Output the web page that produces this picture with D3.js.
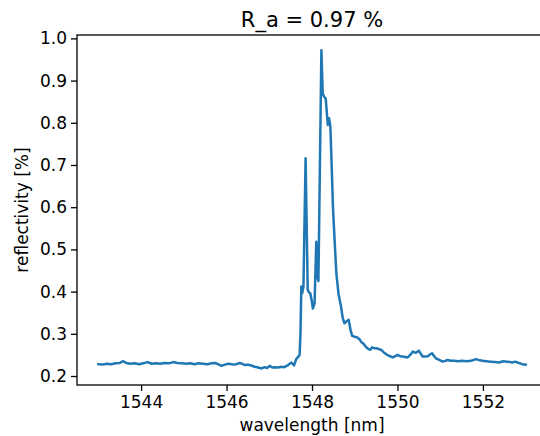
<!DOCTYPE html>
<html>
<head>
<meta charset="utf-8">
<script src="https://cdn.jsdelivr.net/npm/d3@7"></script>
<style>
  body { margin: 0; background: #fff; }
  text { font-family: "DejaVu Sans", sans-serif; fill: #000; }
</style>
</head>
<body>
<div id="myChart"></div>
<script>
// Data
let wavelength = [
  1543.00, 1543.10, 1543.20, 1543.30, 1543.40, 1543.50, 1543.58, 1543.65, 1543.75, 1543.85,
  1543.95, 1544.05, 1544.15, 1544.25, 1544.35, 1544.45, 1544.55, 1544.65, 1544.75, 1544.85,
  1544.95, 1545.05, 1545.15, 1545.25, 1545.35, 1545.45, 1545.55, 1545.65, 1545.73, 1545.80,
  1545.88, 1545.96, 1546.04, 1546.12, 1546.19, 1546.26, 1546.31, 1546.38, 1546.43, 1546.50,
  1546.58, 1546.66, 1546.74, 1546.82, 1546.89, 1546.95, 1547.01, 1547.07, 1547.13, 1547.20,
  1547.28, 1547.35, 1547.44, 1547.52, 1547.58, 1547.63, 1547.69, 1547.71, 1547.73, 1547.75,
  1547.77, 1547.80, 1547.85, 1547.90, 1547.93, 1547.96, 1548.00, 1548.02, 1548.06, 1548.10,
  1548.12, 1548.15, 1548.22, 1548.25, 1548.28, 1548.32, 1548.37, 1548.40, 1548.43, 1548.46,
  1548.49, 1548.53, 1548.57, 1548.62, 1548.68, 1548.72, 1548.76, 1548.80, 1548.86, 1548.90,
  1548.94, 1549.00, 1549.05, 1549.11, 1549.16, 1549.20, 1549.27, 1549.32, 1549.36, 1549.41,
  1549.45, 1549.50, 1549.56, 1549.62, 1549.68, 1549.73, 1549.80, 1549.89, 1549.95, 1550.00,
  1550.06, 1550.12, 1550.18, 1550.24, 1550.30, 1550.36, 1550.43, 1550.50, 1550.55, 1550.59,
  1550.65, 1550.71, 1550.76, 1550.81, 1550.86, 1550.90, 1550.98, 1551.06, 1551.12, 1551.17,
  1551.25, 1551.33, 1551.42, 1551.52, 1551.62, 1551.72, 1551.78, 1551.83, 1551.90, 1551.99,
  1552.08, 1552.18, 1552.28, 1552.38, 1552.47, 1552.57, 1552.63, 1552.69, 1552.75, 1552.81,
  1552.87, 1552.92, 1553.00
];
let reflectivity = [
  0.228, 0.227, 0.229, 0.228, 0.230, 0.231, 0.235, 0.231, 0.229, 0.230,
  0.228, 0.230, 0.233, 0.229, 0.230, 0.229, 0.231, 0.230, 0.233, 0.231,
  0.230, 0.229, 0.230, 0.228, 0.230, 0.229, 0.228, 0.230, 0.231, 0.228,
  0.224, 0.227, 0.229, 0.228, 0.227, 0.229, 0.231, 0.228, 0.226, 0.227,
  0.225, 0.222, 0.220, 0.218, 0.221, 0.219, 0.224, 0.220, 0.221, 0.220,
  0.222, 0.221, 0.226, 0.232, 0.225, 0.240, 0.247, 0.250, 0.300, 0.412,
  0.396, 0.412, 0.716, 0.404, 0.398, 0.396, 0.375, 0.360, 0.372, 0.518,
  0.440, 0.425, 0.972, 0.870, 0.862, 0.858, 0.795, 0.811, 0.791, 0.700,
  0.601, 0.520, 0.443, 0.395, 0.364, 0.337, 0.325, 0.329, 0.333, 0.310,
  0.295, 0.293, 0.292, 0.287, 0.280, 0.277, 0.268, 0.264, 0.262, 0.268,
  0.266, 0.266, 0.264, 0.262, 0.256, 0.252, 0.248, 0.244, 0.247, 0.250,
  0.247, 0.246, 0.245, 0.244, 0.250, 0.258, 0.255, 0.260, 0.252, 0.246,
  0.246, 0.247, 0.251, 0.254, 0.247, 0.242, 0.238, 0.234, 0.236, 0.238,
  0.236, 0.236, 0.235, 0.236, 0.235, 0.236, 0.238, 0.240, 0.238, 0.236,
  0.235, 0.234, 0.233, 0.232, 0.235, 0.234, 0.233, 0.232, 0.234, 0.232,
  0.230, 0.228, 0.227
];
let xTicks = [1544, 1546, 1548, 1550, 1552];
let yTicks = [0.2, 0.3, 0.4, 0.5, 0.6, 0.7, 0.8, 0.9, 1.0];

// Set the dimensions and margins of the graph
let margin = { top: 35, right: -7, bottom: 51, left: 77 },
  width = 540 - margin.left - margin.right,
  height = 436 - margin.top - margin.bottom;

let svg = d3
  .select("#myChart")
  .append("svg")
  .attr("width", 540)
  .attr("height", 436)
  .style("display", "block")
  .append("g")
  .attr("transform", `translate(${margin.left}, ${margin.top})`);

let data = wavelength.map((w, i) => ({ w: w, r: reflectivity[i] }));

// Scales (matplotlib-like 5% margins)
let x = d3.scaleLinear().domain([1542.5, 1553.5]).range([0, width]);
let y = d3.scaleLinear().domain([0.1787, 1.008]).range([height, 0]);

// X axis
let xAxis = svg
  .append("g")
  .attr("transform", `translate(0,${height})`)
  .call(
    d3
      .axisBottom(x)
      .tickValues(xTicks)
      .tickFormat(d3.format("d"))
      .tickSize(6)
      .tickPadding(5)
      .tickSizeOuter(0)
  );
xAxis.select(".domain").remove();
xAxis.selectAll(".tick line").attr("stroke", "#000").attr("stroke-width", 1.3);
xAxis
  .selectAll(".tick text")
  .style("font-size", "17px")
  .style("font-family", "DejaVu Sans");

// Y axis
let yAxis = svg
  .append("g")
  .call(
    d3
      .axisLeft(y)
      .tickValues(yTicks)
      .tickFormat(d3.format(".1f"))
      .tickSize(6)
      .tickPadding(4)
      .tickSizeOuter(0)
  );
yAxis.select(".domain").remove();
yAxis.selectAll(".tick line").attr("stroke", "#000").attr("stroke-width", 1.3);
yAxis
  .selectAll(".tick text")
  .style("font-size", "17px")
  .style("font-family", "DejaVu Sans");

// The reflectivity line
let line = d3
  .line()
  .x((d) => x(d.w))
  .y((d) => y(d.r));

svg
  .append("path")
  .datum(data)
  .attr("d", line)
  .attr("fill", "none")
  .attr("stroke", "#1f77b4")
  .attr("stroke-width", 2.5)
  .attr("stroke-linejoin", "round")
  .attr("stroke-linecap", "square");

// Frame (spines)
svg
  .append("rect")
  .attr("x", 0)
  .attr("y", 0)
  .attr("width", width)
  .attr("height", height)
  .attr("fill", "none")
  .attr("stroke", "#000")
  .attr("stroke-width", 1.3);

// Title
svg
  .append("text")
  .attr("x", width / 2)
  .attr("y", -8)
  .style("text-anchor", "middle")
  .style("font-size", "21px")
  .text("R_a = 0.97 %");

// X label
svg
  .append("text")
  .attr("x", width / 2)
  .attr("y", height + 46)
  .style("text-anchor", "middle")
  .style("font-size", "17px")
  .text("wavelength [nm]");

// Y label
svg
  .append("text")
  .attr("transform", "rotate(-90)")
  .attr("x", -height / 2)
  .attr("y", 28 - margin.left)
  .style("text-anchor", "middle")
  .style("font-size", "17px")
  .text("reflectivity [%]");
</script>
</body>
</html>
